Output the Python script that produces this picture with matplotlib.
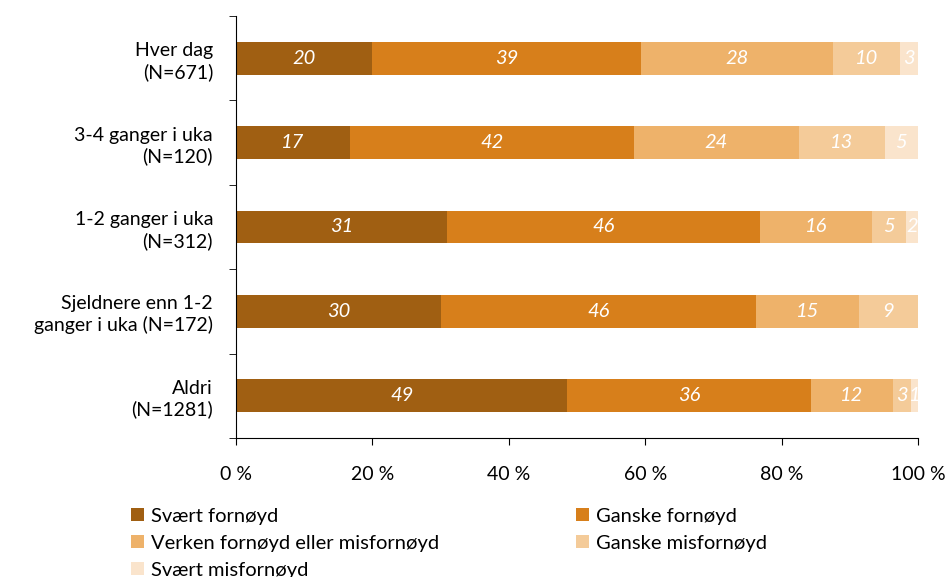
import matplotlib.pyplot as plt
import numpy as np

plt.rcParams['font.family'] = ['Lato', 'DejaVu Sans']

categories = ['Hver dag\n(N=671)', '3-4 ganger i uka\n(N=120)', '1-2 ganger i uka\n(N=312)',
              'Sjeldnere enn 1-2\nganger i uka (N=172)', 'Aldri\n(N=1281)']
series = ['Svært fornøyd', 'Ganske fornøyd', 'Verken fornøyd eller misfornøyd',
          'Ganske misfornøyd', 'Svært misfornøyd']
svaert_fornoyd = [20.0, 16.7, 31.0, 30.1, 48.6]
ganske_fornoyd = [39.4, 41.6, 45.9, 46.1, 35.7]
verken = [28.1, 24.2, 16.3, 15.1, 12.0]
ganske_misfornoyd = [9.9, 12.6, 5.0, 8.7, 2.7]
svaert_misfornoyd = [2.6, 4.9, 1.8, 0.0, 1.0]
colors = ['#A05F12', '#D77F1B', '#EEB26A', '#F4CB99', '#FAE4CC']

data = [svaert_fornoyd, ganske_fornoyd, verken, ganske_misfornoyd, svaert_misfornoyd]

fig = plt.figure(figsize=(9.51, 5.77), dpi=100)
ax = fig.add_axes([0.2482, 0.2409, 0.7171, 0.7314])

y = np.arange(len(categories))
left = np.zeros(len(categories))
handles = []
for name, vals, col in zip(series, data, colors):
    vals = np.array(vals)
    b = ax.barh(y, vals, left=left, height=0.39, color=col, label=name)
    handles.append(b)
    for yi, l, v in zip(y, left, vals):
        if v > 0:
            ax.text(l + v / 2, yi, '%.0f' % v, ha='center', va='center',
                    color='white', fontsize=14.5, style='italic')
    left += vals

ax.set_xlim(0, 100)
ax.set_ylim(len(categories) - 0.5, -0.5)
ax.set_xticks(np.arange(0, 101, 20))
ax.set_xticklabels(['%d %%' % t for t in range(0, 101, 20)], fontsize=14)
ax.set_yticks(y)
ax.set_yticklabels(categories, fontsize=14, linespacing=1.25)
ax.set_yticks(np.arange(-0.5, len(categories)), minor=True)
ax.tick_params(axis='y', which='major', length=0, pad=16.5)
ax.tick_params(axis='y', which='minor', length=5, direction='out')
ax.tick_params(axis='x', length=5, direction='out', pad=15)
for s in ['top', 'right']:
    ax.spines[s].set_visible(False)

# row-wise order in a two-column legend
order = [0, 2, 4, 1, 3]
fig.legend([handles[i] for i in order], [series[i] for i in order], ncol=2,
           loc='upper left', bbox_to_anchor=(0.1293, 0.1343), frameon=False,
           fontsize=14.5, handlelength=0.65, handleheight=0.65, handletextpad=0.35,
           labelspacing=0.5, columnspacing=6.8, borderaxespad=0)

fig.savefig('out.png', dpi=100)
